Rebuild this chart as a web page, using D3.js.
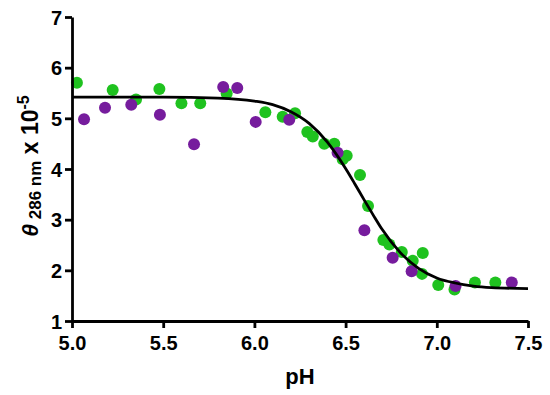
<!DOCTYPE html>
<html>
<head>
<meta charset="utf-8">
<script src="https://cdn.jsdelivr.net/npm/d3@7"></script>
<style>
  body { margin: 0; background: #fff; }
  text { font-family: "Liberation Sans", Arial, sans-serif; font-weight: bold; }
</style>
</head>
<body>
<div id="chart"></div>
<script>
// Data
const greenPH = [5.027, 5.223, 5.351, 5.479, 5.600, 5.703, 5.848, 6.060, 6.155, 6.223, 6.290, 6.320, 6.383, 6.438, 6.506, 6.484, 6.579, 6.623, 6.707, 6.740, 6.808, 6.868, 6.923, 6.919, 7.008, 7.097, 7.209, 7.321];
const greenTheta = [5.70, 5.56, 5.37, 5.58, 5.30, 5.30, 5.49, 5.12, 5.03, 5.10, 4.73, 4.64, 4.50, 4.50, 4.26, 4.19, 3.88, 3.27, 2.60, 2.51, 2.36, 2.19, 2.34, 1.93, 1.71, 1.62, 1.76, 1.76];

const purplePH = [5.066, 5.181, 5.325, 5.482, 5.669, 5.829, 5.906, 6.007, 6.191, 6.456, 6.603, 6.758, 6.862, 7.103, 7.411];
const purpleTheta = [4.98, 5.21, 5.27, 5.07, 4.49, 5.62, 5.60, 4.93, 4.97, 4.32, 2.79, 2.25, 1.98, 1.69, 1.76];

// fitted curve
const fitPH = [5.0, 5.5, 5.8, 6.0, 6.1, 6.2, 6.3, 6.4, 6.5, 6.55, 6.6, 6.65, 6.7, 6.8, 6.9, 7.0, 7.1, 7.2, 7.3, 7.5];
const fitTheta = [5.42, 5.42, 5.40, 5.34, 5.27, 5.13, 4.90, 4.53, 4.01, 3.71, 3.40, 3.10, 2.81, 2.35, 2.04, 1.85, 1.75, 1.69, 1.66, 1.64];

const xTicks = [5.0, 5.5, 6.0, 6.5, 7.0, 7.5];
const yTicks = [1, 2, 3, 4, 5, 6, 7];

const width = 550, height = 395;
const margin = { top: 17, right: 22, bottom: 74, left: 72 };

const svg = d3.select("#chart")
    .append("svg")
    .attr("width", width)
    .attr("height", height);

const x = d3.scaleLinear()
    .domain([5.0, 7.5])
    .range([margin.left, width - margin.right]);

const y = d3.scaleLinear()
    .domain([1, 7])
    .range([height - margin.bottom, margin.top]);

// points: green first, purple on top
const green = greenPH.map((p, i) => ({ pH: p, t: greenTheta[i] }));
const purple = purplePH.map((p, i) => ({ pH: p, t: purpleTheta[i] }));

svg.selectAll("circle.green")
    .data(green)
    .enter()
    .append("circle")
    .attr("class", "green")
    .attr("cx", d => x(d.pH))
    .attr("cy", d => y(d.t))
    .attr("r", 6)
    .attr("fill", "#1fc21f");

svg.selectAll("circle.purple")
    .data(purple)
    .enter()
    .append("circle")
    .attr("class", "purple")
    .attr("cx", d => x(d.pH))
    .attr("cy", d => y(d.t))
    .attr("r", 6)
    .attr("fill", "#761c9d");

// fit line
const fit = fitPH.map((p, i) => ({ pH: p, t: fitTheta[i] }));
const line = d3.line()
    .x(d => x(d.pH))
    .y(d => y(d.t))
    .curve(d3.curveMonotoneX);

svg.append("path")
    .datum(fit)
    .attr("d", line)
    .attr("fill", "none")
    .attr("stroke", "#000")
    .attr("stroke-width", 2.8);

// axes
const xAxis = svg.append("g")
    .attr("transform", `translate(0,${height - margin.bottom})`)
    .call(d3.axisBottom(x).tickValues(xTicks).tickFormat(d3.format(".1f")).tickSize(7).tickSizeOuter(0));

const yAxis = svg.append("g")
    .attr("transform", `translate(${margin.left},0)`)
    .call(d3.axisLeft(y).tickValues(yTicks).tickFormat(d3.format("d")).tickSize(7).tickSizeOuter(0));

[xAxis, yAxis].forEach(g => {
    g.select(".domain").attr("stroke", "#000").attr("stroke-width", 2.8);
    g.selectAll(".tick line").attr("stroke", "#000").attr("stroke-width", 2.8);
    g.selectAll(".tick text")
        .attr("fill", "#000")
        .style("font-size", "20px")
        .style("font-family", "'Liberation Sans', Arial, sans-serif")
        .style("font-weight", "bold");
});
xAxis.selectAll(".tick text").attr("y", 15);
yAxis.selectAll(".tick text").attr("x", -10).attr("dy", "0.36em");

// x label
svg.append("text")
    .attr("x", 300)
    .attr("y", 384)
    .attr("text-anchor", "middle")
    .style("font-size", "22px")
    .text("pH");

// y label
const yl = svg.append("text")
    .attr("transform", "translate(38,166) rotate(-90)")
    .attr("text-anchor", "middle")
    .style("font-size", "23px");
yl.append("tspan").style("font-style", "italic").text("θ");
yl.append("tspan").attr("dy", 3).style("font-size", "17px").text(" 286 nm");
yl.append("tspan").attr("dy", -3).text(" x 10");
yl.append("tspan").attr("dy", -9).style("font-size", "16px").text("-5");
</script>
</body>
</html>
